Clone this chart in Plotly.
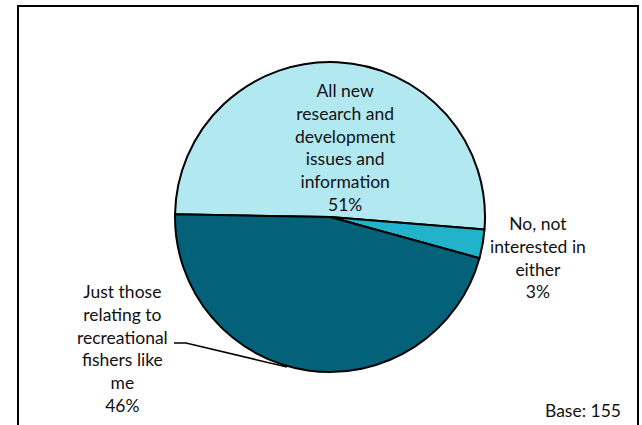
import plotly.graph_objects as go

# Survey responses: which R&D issues respondents want to hear about
categories = [
    "All new<br>research and<br>development<br>issues and<br>information",
    "No, not<br>interested in<br>either",
    "Just those<br>relating to<br>recreational<br>fishers like<br>me",
]
shares = [51, 3, 46]
colors = ["#b2e9f1", "#22b2c9", "#04617a"]
base_n = 155

W, H = 642, 425
FONT = "Lato"
FS = 17.5


def px(x):
    return x / W


def py(y):
    return 1 - y / H


fig = go.Figure(
    go.Pie(
        labels=categories,
        values=shares,
        sort=False,
        direction="clockwise",
        rotation=-89,
        marker=dict(colors=colors, line=dict(color="black", width=2)),
        textinfo="none",
        hoverinfo="label+percent",
        showlegend=False,
        domain=dict(x=[px(175), px(485)], y=[py(372), py(62)]),
    )
)

# Slice labels with their percentages
label_pos = [(346, 147), (538, 257), (122, 348)]
annotations = []
for cat, val, (lx, ly) in zip(categories, shares, label_pos):
    annotations.append(
        dict(
            text=f"{cat}<br>{val}%",
            x=px(lx), y=py(ly), xref="paper", yref="paper",
            xanchor="center", yanchor="middle", align="center",
            showarrow=False,
            font=dict(family=FONT, size=FS, color="#111111"),
        )
    )

annotations.append(
    dict(
        text=f"Base: {base_n}",
        x=px(623), y=py(410), xref="paper", yref="paper",
        xanchor="right", yanchor="middle", showarrow=False,
        font=dict(family=FONT, size=FS, color="#111111"),
    )
)

shapes = [
    # chart frame
    dict(type="rect", xref="paper", yref="paper",
         x0=px(18), x1=px(638), y0=py(440), y1=py(6),
         line=dict(color="black", width=2), fillcolor="rgba(0,0,0,0)"),
    # leader line for the 46% slice
    dict(type="path", xref="paper", yref="paper",
         path=f"M {px(174)} {py(343)} L {px(186)} {py(343)} L {px(287)} {py(367)}",
         line=dict(color="black", width=1.5)),
]

fig.update_layout(
    width=W, height=H,
    margin=dict(l=0, r=0, t=0, b=0),
    paper_bgcolor="white",
    plot_bgcolor="white",
    annotations=annotations,
    shapes=shapes,
)

fig.write_html("out.html")
